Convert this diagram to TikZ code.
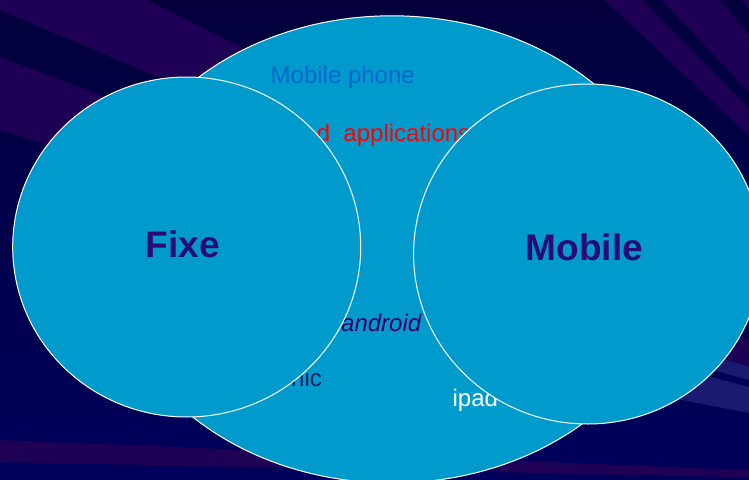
\documentclass[tikz,border=0pt]{standalone}
\usepackage{fontspec}
\setmainfont{Liberation Sans}
\usetikzlibrary{calc}
\definecolor{bgtop}{RGB}{3,0,60}
\definecolor{bgbottom}{RGB}{0,0,92}
\definecolor{raypurple}{RGB}{30,0,84}
\definecolor{raylight}{RGB}{26,26,112}
\definecolor{vennfill}{RGB}{0,155,204}
\definecolor{phoneblue}{RGB}{0,102,204}
\definecolor{labelpurple}{RGB}{40,10,120}
\definecolor{androidpurple}{RGB}{51,0,102}
\definecolor{nicnavy}{RGB}{20,30,100}
\tikzset{
  vennset/.style={fill=vennfill, draw=white, line width=1pt},
  smalltext/.style={inner sep=0pt, font=\fontsize{24}{28}\selectfont},
  bigtext/.style={inner sep=0pt, font=\fontsize{37}{42}\selectfont\bfseries, text=labelpurple},
  purpleray/.style={fill=raypurple},
  lightray/.style={fill=raylight}
}
\newcommand{\rayband}[3]{\fill[#1] (rayc) -- ($(rayc)!3!(#2)$) -- ($(rayc)!3!(#3)$) -- cycle;}
\newcommand{\shortband}[3]{\fill[#1] (#2) -- ($(rayc)!1.22!(#2)$) -- ($(rayc)!1.22!(#3)$) -- (#3) -- cycle;}
\begin{document}
\begin{tikzpicture}[x=1pt,y=-1pt]
\useasboundingbox (0,0) rectangle (749,479);
\clip (0,0) rectangle (749,479);
% background
\shade[top color=bgtop, bottom color=bgbottom] (0,0) rectangle (749,479);
\coordinate (rayc) at (1120,485);
\rayband{purpleray}{147,0}{0,10}
\rayband{purpleray}{0,57}{0,130}
\rayband{purpleray}{0,440}{0,462}
\rayband{purpleray}{605,0}{642,0}
\rayband{purpleray}{662,0}{720,0}
\rayband{purpleray}{742,0}{790,0}
\shortband{purpleray}{749,340}{749,353}
\shortband{lightray}{749,367}{749,380}
\shortband{lightray}{749,387}{749,413}
% big set
\draw[vennset] (392,249.4) ellipse [x radius=286pt, y radius=233.6pt];
% texts inside the big set
\node[smalltext, text=phoneblue, anchor=base west] (phone) at (270.5,83.3) {Mobile phone};
\node[smalltext, text=red, anchor=base west] (apps) at (316.6,141.7) {d~~applications};
\node[smalltext, text=androidpurple, anchor=base west] (android) at (341,331.7) {\itshape android};
\node[smalltext, text=nicnavy, anchor=base west] (nic) at (291,386.7) {nic};
\node[smalltext, text=white, anchor=base west] (ipad) at (452.4,406) {ipad};
% the two sets
\draw[vennset] (186.7,247) ellipse [x radius=174pt, y radius=170pt];
\draw[vennset] (587.6,254) ellipse [x radius=174pt, y radius=170pt];
\node[bigtext, anchor=base] (fixe) at (183,257) {Fixe};
\node[bigtext, anchor=base] (mobile) at (584.5,260) {Mobile};
\end{tikzpicture}
\end{document}
